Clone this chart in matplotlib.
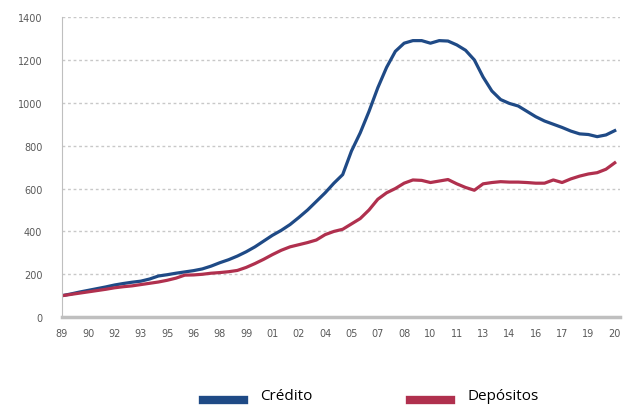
import matplotlib
matplotlib.use("Agg")
import matplotlib.pyplot as plt
from matplotlib.lines import Line2D
from matplotlib.legend_handler import HandlerLine2D
import numpy as np

# datos semestrales (índice 1989 = 100)
anios = np.arange(1989.0, 2020.51, 0.5)

credito = [100, 108, 117, 125, 133, 141, 150, 157, 163, 168,
           178, 192, 198, 205, 211, 217, 225, 238, 254, 268,
           285, 305, 328, 355, 382, 405, 432, 465, 500, 540,
           580, 625, 665, 775, 860, 960, 1070, 1165, 1240, 1278,
           1290, 1290, 1278, 1290, 1288, 1270, 1245, 1200, 1120, 1055,
           1015, 997, 985, 960, 935, 915, 900, 885, 868, 855,
           852, 842, 850, 870]

depositos = [100, 106, 112, 118, 124, 130, 137, 142, 146, 152,
             158, 164, 172, 182, 196, 197, 200, 205, 208, 212,
             218, 232, 250, 270, 292, 312, 328, 338, 348, 360,
             385, 400, 410, 435, 460, 500, 550, 580, 600, 625,
             640, 638, 628, 635, 642, 622, 605, 592, 622, 628,
             632, 630, 630, 628, 625, 625, 640, 628, 645, 658,
             668, 674, 690, 720]

etiquetas = ['89', '90', '92', '93', '95', '96', '98', '99', '01', '02', '04',
             '05', '07', '08', '10', '11', '13', '14', '16', '17', '19', '20']
pos_etiquetas = 1989 + 1.5 * np.arange(len(etiquetas))

azul = '#1f4a86'
rojo = '#b0304e'
gris = '#595959'


class HandlerBajo(HandlerLine2D):
    # la marca de la leyenda queda un poco por debajo del texto
    def create_artists(self, legend, orig_handle, xdescent, ydescent,
                       width, height, fontsize, trans):
        return super().create_artists(legend, orig_handle, xdescent, ydescent + 10,
                                      width, height, fontsize, trans)


fig = plt.figure(figsize=(6.25, 4.1), dpi=100)
ax = fig.add_axes([0.099, 0.224, 0.893, 0.732])

ax.plot(anios, credito, color=azul, lw=2.3, label='Crédito')
ax.plot(anios, depositos, color=rojo, lw=2.3, label='Depósitos')

ax.set_xlim(1989, 2020.8)
ax.set_ylim(0, 1400)
ax.set_yticks(range(0, 1401, 200))
ax.set_xticks(pos_etiquetas)
ax.set_xticklabels(etiquetas)

ax.yaxis.grid(True, color='#c8c8c8', linestyle=(0, (2, 2)), lw=1)
ax.set_axisbelow(True)

for s in ['top', 'right']:
    ax.spines[s].set_visible(False)
ax.spines['left'].set_color('#bfbfbf')
ax.spines['bottom'].set_color('#bfbfbf')
ax.spines['bottom'].set_linewidth(2.5)
ax.tick_params(axis='both', length=0, labelsize=7, colors=gris, pad=8)
ax.tick_params(axis='y', pad=14)

leg = fig.legend(loc='lower center', bbox_to_anchor=(0.593, -0.018), ncol=2, frameon=False,
                 handlelength=2.7, handletextpad=1.05, columnspacing=6.4,
                 prop={'family': 'Open Sans', 'size': 11},
                 handler_map={Line2D: HandlerBajo()})
for h in leg.get_lines():
    h.set_linewidth(6)

fig.savefig('out.png', dpi=100)
